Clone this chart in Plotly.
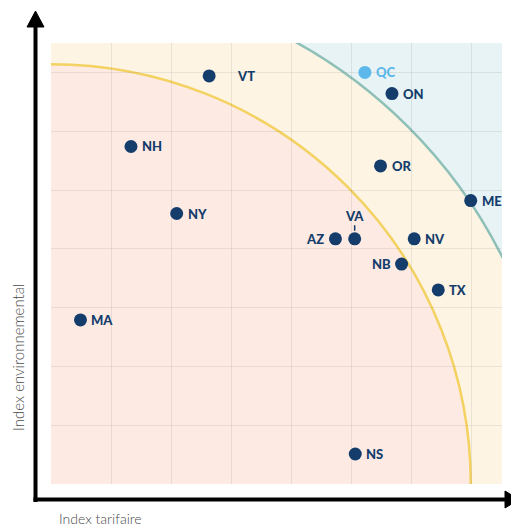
import plotly.graph_objects as go

# ---- data ----
states = ["VT", "QC", "ON", "NH", "OR", "ME", "NY", "AZ", "VA", "NV", "NB", "TX", "MA", "NS"]
index_tarifaire = [2.63, 5.22, 5.67, 1.33, 5.48, 6.98, 2.09, 4.73, 5.05, 6.04, 5.83, 6.44, 0.49, 5.06]
index_environnemental = [6.94, 7.00, 6.64, 5.74, 5.41, 4.82, 4.60, 4.17, 4.17, 4.17, 3.74, 3.30, 2.79, 0.51]
highlight = ["QC"]

# zone boundaries (quarter circles centred on the origin, in axis units)
inner_radius_x, inner_radius_y = 6.98, 7.14
outer_radius_x, outer_radius_y = 8.40, 8.59
axis_max = 7.5

# ---- styles ----
NAVY = "#143d6c"
LIGHT = "#5cb8ea"
PINK = "#fdeae3"
YELLOW = "#fdf4e3"
BLUE = "#e7f3f4"
label_side = {"AZ": "left", "NB": "left", "VA": "top"}
label_gap = {"VT": 26}

colors = [LIGHT if s in highlight else NAVY for s in states]

fig = go.Figure()
fig.add_trace(go.Scatter(
    x=index_tarifaire, y=index_environnemental, mode="markers",
    marker=dict(size=13, color=colors, line=dict(width=0)),
    hoverinfo="text", text=states, showlegend=False, cliponaxis=False,
))

shapes = [
    dict(type="circle", xref="x", yref="y", x0=-outer_radius_x, x1=outer_radius_x,
         y0=-outer_radius_y, y1=outer_radius_y, fillcolor=YELLOW,
         line=dict(color="#8fc0b8", width=2.5), layer="below"),
    dict(type="circle", xref="x", yref="y", x0=-inner_radius_x, x1=inner_radius_x,
         y0=-inner_radius_y, y1=inner_radius_y, fillcolor=PINK,
         line=dict(color="#f3d262", width=2.5), layer="below"),
]

# axis arrows (paper coords, derived from the plot-area pixel box)
W, H, L, T = 451.0, 441.0, 51.0, 43.0
def px(x):
    return (x - L) / W
def py(y):
    return (T + H - y) / H

shapes += [
    dict(type="line", xref="paper", yref="paper", x0=px(35.5), x1=px(35.5), y0=py(502), y1=py(24),
         line=dict(color="black", width=4)),
    dict(type="line", xref="paper", yref="paper", x0=px(33.5), x1=px(508), y0=py(499.5), y1=py(499.5),
         line=dict(color="black", width=4)),
    dict(type="path", xref="paper", yref="paper",
         path=f"M {px(35.5)},{py(11)} L {px(27)},{py(27)} L {px(44)},{py(27)} Z",
         fillcolor="black", line=dict(color="black", width=1)),
    dict(type="path", xref="paper", yref="paper",
         path=f"M {px(519)},{py(499.5)} L {px(505)},{py(491)} L {px(505)},{py(508)} Z",
         fillcolor="black", line=dict(color="black", width=1)),
]

annotations = []
for s, x, y, c in zip(states, index_tarifaire, index_environnemental, colors):
    side = label_side.get(s, "right")
    font = dict(family="Lato, Open Sans, sans-serif", size=13, color=c, weight=900)
    if side == "right":
        annotations.append(dict(x=x, y=y, xref="x", yref="y", text=s, showarrow=False,
                                xanchor="left", yanchor="middle", xshift=label_gap.get(s, 9), font=font))
    elif side == "left":
        annotations.append(dict(x=x, y=y, xref="x", yref="y", text=s, showarrow=False,
                                xanchor="right", yanchor="middle", xshift=-9, font=font))
    else:
        annotations.append(dict(x=x, y=y, xref="x", yref="y", text=s, showarrow=True,
                                arrowhead=0, arrowwidth=1.5, arrowcolor=c, ax=0, ay=-23,
                                standoff=8, font=font))

annotations += [
    dict(xref="paper", yref="paper", x=px(18), y=py(358), text="Index environnemental",
         textangle=-90, showarrow=False, xanchor="center", yanchor="middle",
         font=dict(family="Lato, sans-serif", size=15, color="#4a4a4a", weight=300)),
    dict(xref="paper", yref="paper", x=px(57), y=py(518), text="Index tarifaire",
         showarrow=False, xanchor="left", yanchor="middle",
         font=dict(family="Lato, sans-serif", size=14, color="#4a4a4a", weight=300)),
]

axis_common = dict(range=[0, axis_max], dtick=1, tick0=0, showticklabels=False, ticks="",
                   showgrid=True, gridcolor="rgba(110,110,110,0.13)", gridwidth=1,
                   zeroline=False, showline=False, fixedrange=True)

# the page adds an 8px body margin, so the figure is 8px smaller with margins shifted
fig.update_layout(
    width=511, height=518,
    margin=dict(l=43, r=17, t=35, b=42),
    paper_bgcolor="white", plot_bgcolor=BLUE,
    xaxis=axis_common, yaxis=axis_common,
    shapes=shapes, annotations=annotations,
    showlegend=False,
)

fig.write_html("out.html")
